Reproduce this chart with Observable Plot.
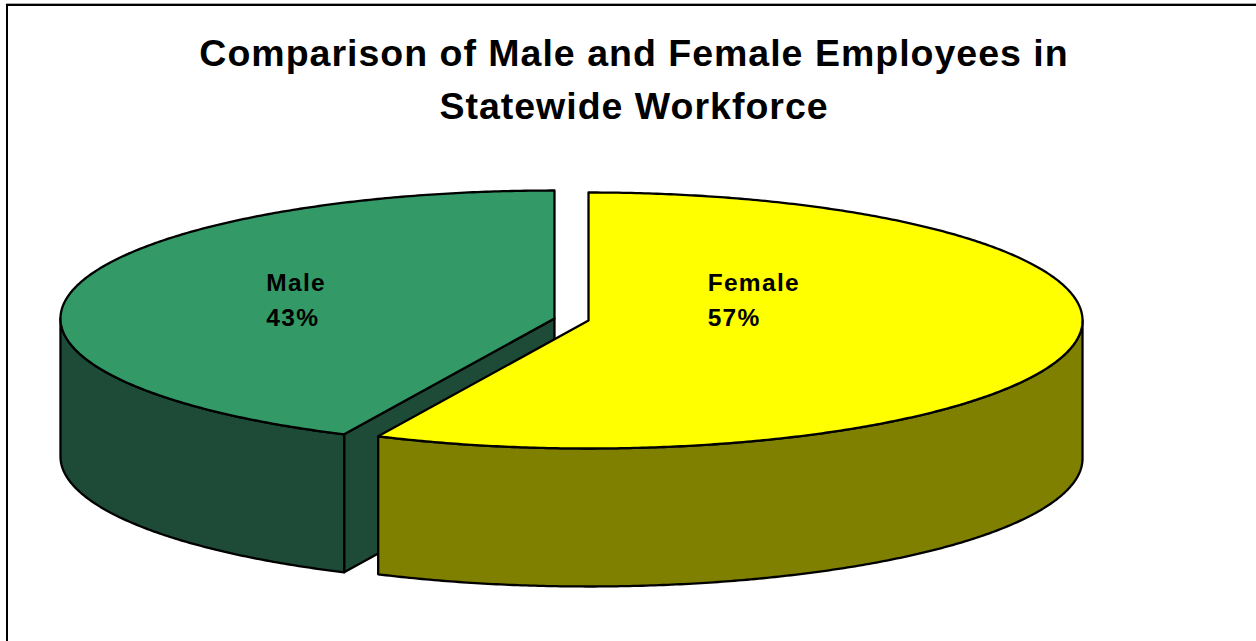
<!DOCTYPE html>
<html>
<head>
<meta charset="utf-8">
<script src="https://cdn.jsdelivr.net/npm/d3@7"></script>
<script src="https://cdn.jsdelivr.net/npm/@observablehq/plot@0.6"></script>
<style>
  html, body { margin: 0; padding: 0; background: #fff; overflow: hidden; }
  #wrap { position: relative; width: 1256px; height: 641px; overflow: hidden; font-family: "Liberation Sans", Arial, sans-serif; }
  #frame { position: absolute; left: 6px; top: 4px; width: 1400px; height: 800px; border-left: 2px solid #000; border-top: 2px solid #000; box-shadow: 0 -1px 0 #aaa; }
  #title { position: absolute; left: 6px; top: 27px; width: 1256px; text-align: center; font-size: 37.5px; line-height: 53px; font-weight: bold; letter-spacing: 1px; color: #000; }
  #chart { position: absolute; left: 0; top: 0; }
  #chart svg text { letter-spacing: 1.3px; }
</style>
</head>
<body>
<div id="wrap">
  <div id="frame"></div>
  <div id="chart"></div>
  <div id="title">Comparison of Male and Female Employees in<br>Statewide Workforce</div>
</div>
<script>
// ---- data ----
const categories = ["Female", "Male"];
const percents = [57, 43];
const topColors = ["#FFFF00", "#339966"];
const sideColors = ["#808000", "#1E4B37"];

// ---- layout ----
const W = 1256, H = 641;
const cx = 571, cy = 319, rx = 494, ry = 128, depth = 138, explode = 0.0353;

const total = d3.sum(percents);
let acc = 0;
const slices = categories.map((c, i) => {
  const a0 = acc / total * 2 * Math.PI;
  acc += percents[i];
  const a1 = acc / total * 2 * Math.PI;
  const mid = (a0 + a1) / 2;
  return {
    category: c, value: percents[i], a0, a1, mid,
    ox: cx + explode * rx * Math.sin(mid),
    oy: cy - explode * ry * Math.cos(mid),
    top: topColors[i], side: sideColors[i]
  };
});

const pt = (s, a, dz = 0) => ({x: s.ox + rx * Math.sin(a), y: s.oy - ry * Math.cos(a) + dz});
function arc(s, a0, a1, dz = 0) {
  const n = Math.max(2, Math.ceil(Math.abs(a1 - a0) / (Math.PI / 360)));
  return d3.range(n + 1).map(k => pt(s, a0 + (a1 - a0) * k / n, dz));
}
const close = pts => pts.concat([pts[0]]);

const polys = [];
const order = slices.slice().sort((a, b) => Math.cos(b.mid) - Math.cos(a.mid));
for (const s of order) {
  const c = {x: s.ox, y: s.oy}, cb = {x: s.ox, y: s.oy + depth};
  // radial cut faces
  const faces = [[s.a0, s.a0 - Math.PI / 2], [s.a1, s.a1 + Math.PI / 2]];
  for (const [a, psi] of faces) {
    if (Math.cos(psi) < -1e-6) {
      polys.push({fill: s.side, pts: close([c, pt(s, a), pt(s, a, depth), cb])});
    }
  }
  // front outer wall
  const w0 = Math.max(s.a0, Math.PI / 2), w1 = Math.min(s.a1, 3 * Math.PI / 2);
  if (w1 > w0) {
    polys.push({fill: s.side, pts: close(arc(s, w0, w1).concat(arc(s, w1, w0, depth)))});
  }
  // top face
  polys.push({fill: s.top, pts: close([c].concat(arc(s, s.a0, s.a1)))});
}

// labels at the centroid of each top sector
const labelRows = slices.map(s => {
  const beta = (s.a1 - s.a0) / 2;
  const d = 2 * Math.sin(beta) / (3 * beta);
  return {x: s.ox + d * rx * Math.sin(s.mid), y: cy, label: `${s.category}\n${s.value}%`};
});

const chart = Plot.plot({
  width: W, height: H, margin: 0,
  x: {domain: [0, W], range: [0, W], axis: null},
  y: {domain: [0, H], range: [0, H], axis: null},
  style: {fontFamily: "'Liberation Sans', Arial, sans-serif", background: "transparent", overflow: "visible"},
  marks: [
    ...polys.map(p => Plot.line(p.pts, {x: "x", y: "y", fill: p.fill, stroke: "#000", strokeWidth: 2.3, strokeLinejoin: "round"})),
    Plot.text(labelRows, {x: "x", y: "y", text: "label", textAnchor: "start", lineAnchor: "middle", lineHeight: 1.42,
      fontSize: 24.5, fontWeight: "bold", fill: "#000", dx: -56, dy: -22})
  ]
});
document.getElementById("chart").appendChild(chart);
</script>
</body>
</html>
